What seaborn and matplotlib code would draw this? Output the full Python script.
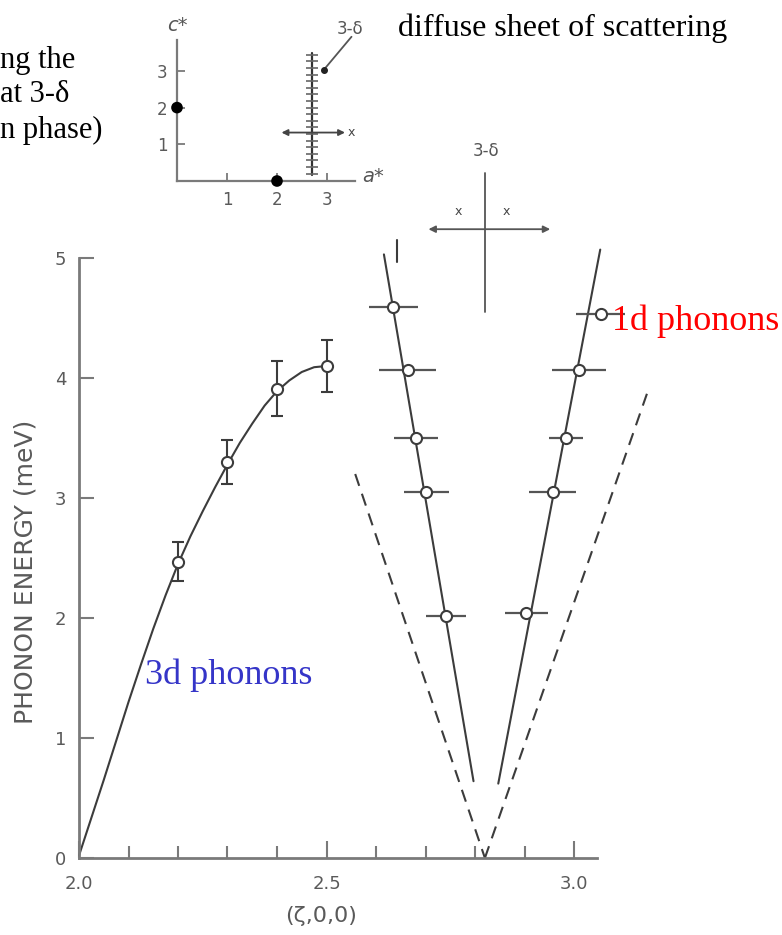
import numpy as np
import matplotlib
matplotlib.use("Agg")
import matplotlib.pyplot as plt
import seaborn as sns

# ---------------- data ----------------
# 3d phonon dispersion curve (smooth line)
curve_x = [2.00, 2.05, 2.10, 2.125, 2.15, 2.175, 2.20, 2.225, 2.25, 2.275, 2.30,
           2.325, 2.35, 2.375, 2.40, 2.425, 2.45, 2.475, 2.50]
curve_E = [0.02, 0.65, 1.30, 1.61, 1.91, 2.19, 2.45, 2.68, 2.89, 3.09, 3.28,
           3.46, 3.62, 3.77, 3.89, 3.98, 4.05, 4.09, 4.10]

# 3d phonon measured points with vertical error bars
x3 = [2.2, 2.3, 2.4, 2.5]
E3 = [2.47, 3.30, 3.91, 4.10]
err3 = [0.16, 0.18, 0.23, 0.22]

# 1d phonon measured points with horizontal error bars
x1L = [2.635, 2.664, 2.681, 2.702, 2.741]
E1L = [4.59, 4.07, 3.50, 3.05, 2.02]
xerr1L = [0.050, 0.058, 0.044, 0.046, 0.040]
x1R = [3.054, 3.010, 2.984, 2.957, 2.904]
E1R = [4.53, 4.07, 3.50, 3.05, 2.04]
xerr1R = [0.050, 0.054, 0.035, 0.047, 0.044]

# straight guide lines (end points)
solidL_x, solidL_E = [2.616, 2.797], [5.03, 0.64]
solidR_x, solidR_E = [3.053, 2.847], [5.07, 0.62]
dashL_x, dashL_E = [2.558, 2.820], [3.20, 0.00]
dashR_x, dashR_E = [2.820, 3.150], [0.00, 3.90]
stub_x, stub_E = [2.642, 2.642], [4.97, 5.15]

x_ticks = [2.0, 2.5, 3.0]
x_ticklabels = ["2.0", "2.5", "3.0"]
x_minor = [2.1, 2.2, 2.3, 2.4, 2.6, 2.7, 2.8, 2.9]
y_ticks = [0, 1, 2, 3, 4, 5]

# inset (reciprocal lattice sketch)
inset_ticks = [1, 2, 3]
bragg_a = [2, 0]
bragg_c = [0, 2]
sheet_a = 2.69
sheet_c = [0.15, 3.5]
sheet_hatch_c = [0.2, 0.38, 0.56, 0.74, 0.92, 1.1, 1.28, 1.46, 1.64, 1.82, 2.0,
                 2.18, 2.36, 2.54, 2.72, 2.9, 3.08, 3.26, 3.44]

# ---------------- styling ----------------
sns.set_theme(style="white")
plt.rcParams["font.family"] = ["DejaVu Sans"]

W, H = 782, 935
fig = plt.figure(figsize=(W / 100, H / 100), dpi=100)
fig.patch.set_facecolor("white")

def fx(px):
    return px / W

def fy(py):
    return 1 - py / H

line_c = "#3c3c3c"
spine_c = "#7a7a7a"
lab_c = "#5a5a5a"

# main axes: x 2.0 at px 79, 495 px/unit ; E 0 at py 858, 120 px/unit
x0px, y0px = 79, 858
xmax = 3.2
axw_px = (xmax - 2.0) * 495
ax = fig.add_axes([fx(x0px), fy(y0px), axw_px / W, 5 * 120 / H])
ax.set_xlim(2.0, xmax)
ax.set_ylim(0, 5)
ax.set_facecolor("none")
for s in ["top", "right"]:
    ax.spines[s].set_visible(False)
for s in ["left", "bottom"]:
    ax.spines[s].set_color(spine_c)
    ax.spines[s].set_linewidth(2.0)
ax.spines["bottom"].set_bounds(2.0, 3.047)

ax.set_xticks(x_ticks)
ax.set_xticklabels(x_ticklabels)
ax.set_xticks(x_minor, minor=True)
ax.set_yticks(y_ticks)
ax.set_yticklabels([str(v) for v in y_ticks])
ax.tick_params(axis="x", which="major", direction="in", length=12, width=1.5,
               color=spine_c, labelsize=13, labelcolor=lab_c, pad=12, bottom=True)
ax.tick_params(axis="x", which="minor", direction="in", length=9, width=1.5,
               color=spine_c, bottom=True)
ax.tick_params(axis="y", which="major", direction="in", length=11, width=1.5,
               color=spine_c, labelsize=13, labelcolor=lab_c, pad=9, left=True)

ax.set_ylabel("PHONON ENERGY (meV)", fontsize=18, color=lab_c)
ax.yaxis.set_label_coords((38 - x0px) / axw_px, (y0px - 572) / 600)
ax.set_xlabel("(ζ,0,0)", fontsize=16, color=lab_c)
ax.xaxis.set_label_coords((321 - x0px) / axw_px, (y0px - 906) / 600)

# 3d curve
sns.lineplot(x=curve_x, y=curve_E, ax=ax, color=line_c, lw=1.5, sort=False,
             estimator=None)
# 1d lines
for xs, es in [(solidL_x, solidL_E), (solidR_x, solidR_E), (stub_x, stub_E)]:
    sns.lineplot(x=xs, y=es, ax=ax, color=line_c, lw=1.5, sort=False,
                 estimator=None)
for xs, es in [(dashL_x, dashL_E), (dashR_x, dashR_E)]:
    l = sns.lineplot(x=xs, y=es, ax=ax, color=line_c, lw=1.5, sort=False,
                     estimator=None)
    l.lines[-1].set_dashes((6, 4))
for ln in ax.lines:
    ln.set_clip_on(False)

# error bar points
ax.errorbar(x3, E3, yerr=err3, fmt="o", mfc="white", mec=line_c, mew=1.5, ms=8,
            ecolor=line_c, elinewidth=1.5, capsize=4, capthick=1.5, zorder=5,
            clip_on=False)
for xs, es, xe in [(x1L, E1L, xerr1L), (x1R, E1R, xerr1R)]:
    ax.errorbar(xs, es, xerr=xe, fmt="o", mfc="white", mec=line_c, mew=1.5,
                ms=8, ecolor="#555555", elinewidth=1.6, capsize=0, zorder=5,
                clip_on=False)

# cross diagram (3-δ) above the V
ax.plot([2.82, 2.82], [4.55, 5.71], color="#555555", lw=1.3, clip_on=False)
ax.annotate("", xy=(2.706, 5.24), xytext=(2.952, 5.24), annotation_clip=False,
            arrowprops=dict(arrowstyle="<|-|>", color="#555555", lw=1.3,
                            shrinkA=0, shrinkB=0, mutation_scale=10))
ax.text(2.766, 5.39, "x", fontsize=9, color="#444444", ha="center", va="center",
        clip_on=False)
ax.text(2.864, 5.39, "x", fontsize=9, color="#444444", ha="center", va="center",
        clip_on=False)
ax.text(2.822, 5.89, "3-δ", fontsize=12, color="#555555", ha="center",
        va="center", clip_on=False)

# labels
ax.text(2.133, 1.45, "3d phonons", fontsize=26, color="#3535c8",
        family="Liberation Serif", ha="left", va="baseline", clip_on=False)
ax.text(3.077, 4.40, "1d phonons", fontsize=26, color="#ff0000",
        family="Liberation Serif", ha="left", va="baseline", clip_on=False,
        zorder=6)

# ---------------- inset ----------------
ia0, ic0 = 177, 181  # px of inset origin
apx, cpx = 50, 36.7
ia_max, ic_max = 3.56, 3.84
iax = fig.add_axes([fx(ia0), fy(ic0), ia_max * apx / W, ic_max * cpx / H])
iax.set_xlim(0, ia_max)
iax.set_ylim(0, ic_max)
iax.set_facecolor("none")
for s in ["top", "right"]:
    iax.spines[s].set_visible(False)
for s in ["left", "bottom"]:
    iax.spines[s].set_color(spine_c)
    iax.spines[s].set_linewidth(1.6)
iax.set_xticks(inset_ticks)
iax.set_yticks(inset_ticks)
iax.set_xticklabels([str(t) for t in inset_ticks])
iax.set_yticklabels([str(t) for t in inset_ticks])
iax.tick_params(direction="in", length=6, width=1.3, color=spine_c,
                labelsize=12, labelcolor=lab_c, pad=7, left=True, bottom=True)
iax.grid(False)

sns.scatterplot(x=bragg_a, y=bragg_c, ax=iax, s=70, color="black", zorder=6,
                clip_on=False, edgecolor="none")
iax.plot([sheet_a, sheet_a], sheet_c, color="#333333", lw=1.6)
iax.plot([sheet_a] * len(sheet_hatch_c), sheet_hatch_c, ls="none", marker="_",
         ms=9, mew=1.2, color="#666666")
iax.annotate("", xy=(2.09, 1.32), xytext=(3.36, 1.32), annotation_clip=False,
             arrowprops=dict(arrowstyle="<|-|>", color="#444444", lw=1.3,
                             shrinkA=0, shrinkB=0, mutation_scale=9))
iax.text(3.49, 1.32, "x", fontsize=9, color="#444444", ha="center",
         va="center", clip_on=False)
iax.plot([3.49, 2.93], [3.93, 3.02], color="#555555", lw=1.3, clip_on=False)
iax.plot([2.93], [3.02], marker="o", ms=4, color="#222222", clip_on=False)
iax.text(3.46, 4.14, "3-δ", fontsize=12, color="#555555", ha="center",
         va="center", clip_on=False)
iax.text(0.0, 4.25, "c*", fontsize=14, color="#555555", style="italic",
         ha="center", va="center", clip_on=False)
iax.text(3.92, 0.12, "a*", fontsize=14, color="#555555", style="italic",
         ha="center", va="center", clip_on=False)

# ---------------- figure texts ----------------
serif = "Liberation Serif"
fig.text(fx(398), fy(36), "diffuse sheet of scattering", fontsize=23,
         family=serif, color="black", ha="left", va="baseline")
fig.text(fx(0), fy(68), "ng the", fontsize=22, family=serif, color="black",
         ha="left", va="baseline")
fig.text(fx(0), fy(102), "at 3-δ", fontsize=22, family=serif, color="black",
         ha="left", va="baseline")
fig.text(fx(0), fy(138), "n phase)", fontsize=22, family=serif, color="black",
         ha="left", va="baseline")

fig.savefig("out.png", dpi=100, facecolor="white")
